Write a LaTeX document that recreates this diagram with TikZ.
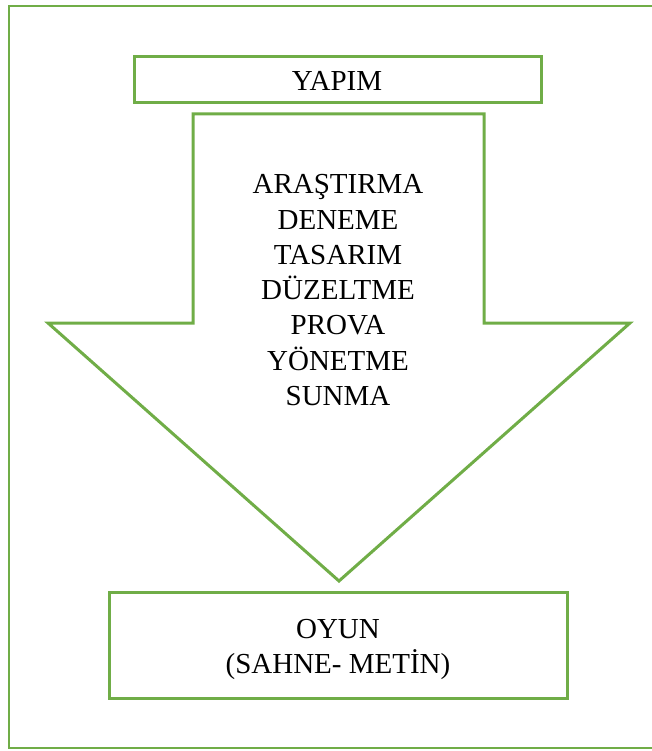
\documentclass[tikz,border=0pt]{standalone}
\usepackage{fontspec}
\setmainfont{Liberation Serif}
\definecolor{lgreen}{RGB}{112,173,71}
\begin{document}
\begin{tikzpicture}[x=1pt,y=-1pt,
  gline/.style={draw=lgreen,line width=3pt},
  txt/.style={font=\fontsize{29}{35}\selectfont,inner sep=0pt,anchor=base,text=black}]
\useasboundingbox (0,0) rectangle (652,751);
% outer frame
\draw[draw=lgreen,line width=2.6pt] (9,6) rectangle (665,748);
% YAPIM box
\node[gline,minimum width=407pt,minimum height=46pt,inner sep=0pt] (yapim) at (337.5,80) {};
\node[txt] (yapimt) at (337,91) {YAPIM};
% arrow
\coordinate (a1) at (193,114);
\coordinate (a2) at (484,114);
\coordinate (a3) at (484,323);
\coordinate (a4) at (630,323);
\coordinate (tip) at (339,581);
\coordinate (a6) at (48,323);
\coordinate (a7) at (193,323);
\draw[gline,line join=miter] (a1) -- (a2) -- (a3) -- (a4) -- (tip) -- (a6) -- (a7) -- cycle;
\foreach \t [count=\i from 0] in {ARAŞTIRMA,DENEME,TASARIM,DÜZELTME,PROVA,YÖNETME,SUNMA}
  \node[txt] (l\i) at (338,{194+35.2*\i}) {\t};
% OYUN box
\node[gline,minimum width=458pt,minimum height=106pt,inner sep=0pt] (oyun) at (338,645) {};
\node[txt] (oyun1) at (338,638) {OYUN};
\node[txt] (oyun2) at (338,673) {(SAHNE- METİN)};
\end{tikzpicture}
\end{document}
